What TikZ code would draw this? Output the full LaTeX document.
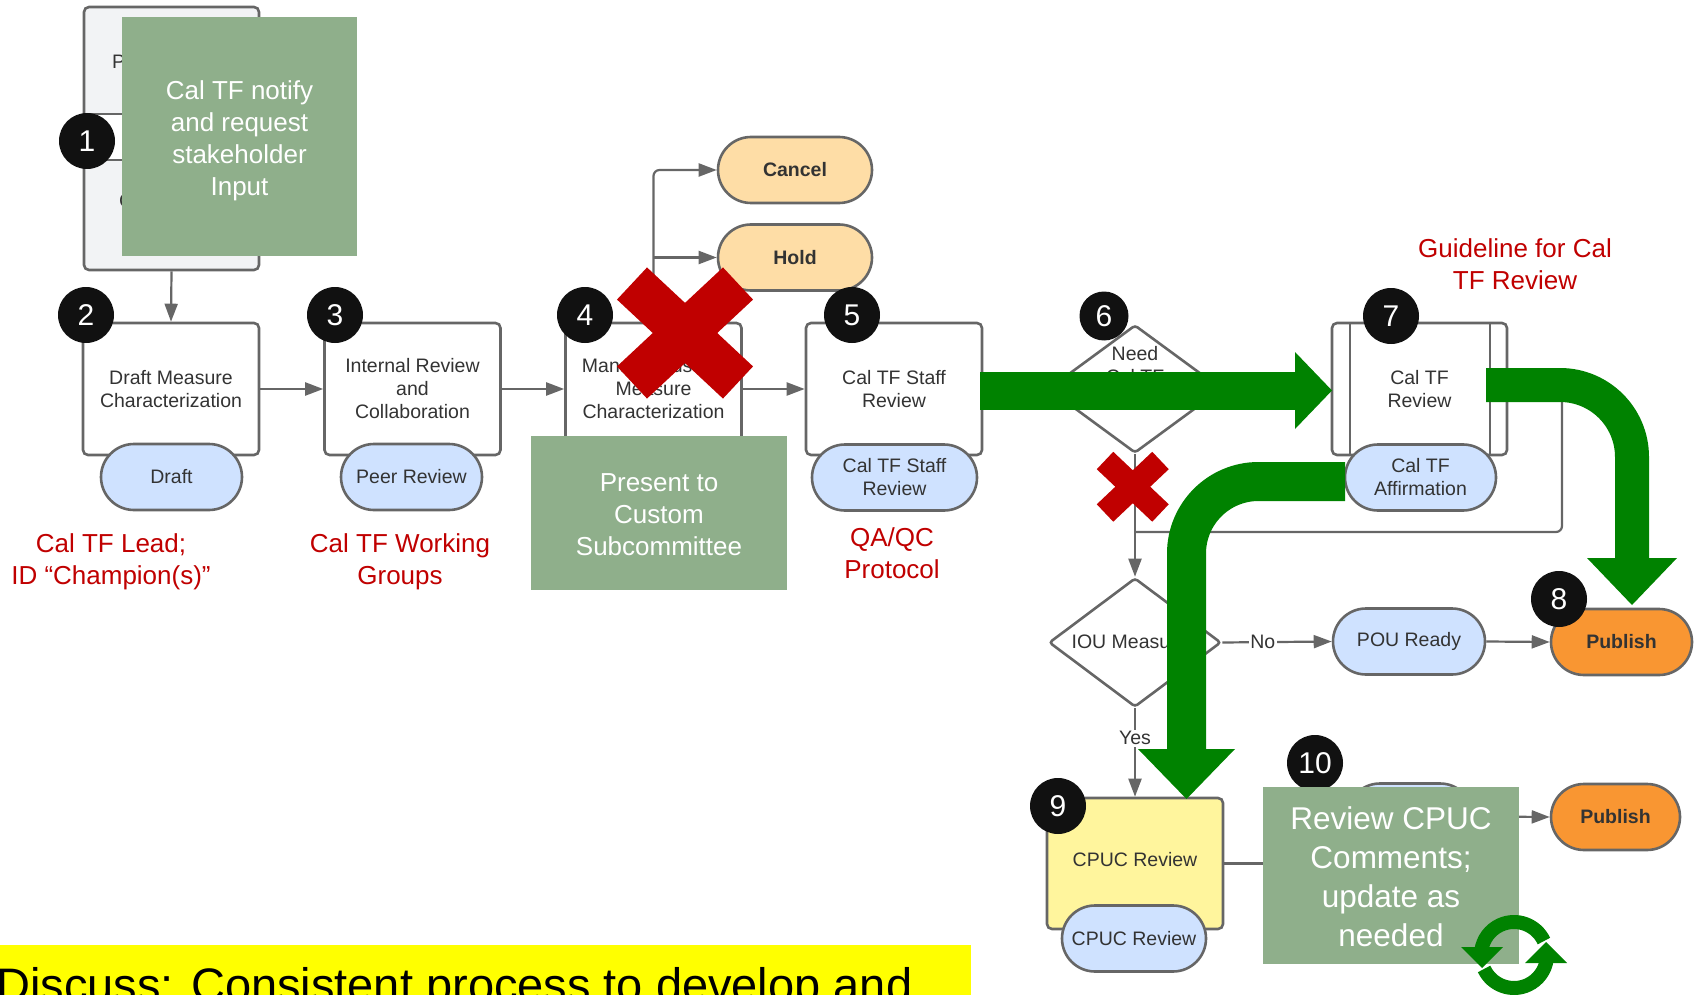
\documentclass[tikz,border=0pt]{standalone}
\usepackage{fontspec}
\setmainfont{Liberation Sans}
\usetikzlibrary{shapes.geometric,shapes.misc,arrows.meta,calc}

\definecolor{lineg}{RGB}{102,102,102}
\definecolor{txtc}{RGB}{51,51,51}
\definecolor{greenbox}{RGB}{143,175,139}
\definecolor{tagblue}{RGB}{207,226,255}
\definecolor{peach}{RGB}{254,221,166}
\definecolor{orangep}{RGB}{249,150,50}
\definecolor{yellowbox}{RGB}{255,245,157}
\definecolor{redtxt}{RGB}{192,0,0}
\definecolor{garrow}{RGB}{0,130,0}
\definecolor{lightgreyb}{RGB}{242,243,245}
\definecolor{bannery}{RGB}{255,255,0}
\definecolor{badgec}{RGB}{17,17,17}

\newcommand{\boxfnt}{\fontsize{19.5}{23}\selectfont}
\newcommand{\tagbfnt}{\fontsize{19.5}{23}\selectfont\bfseries}
\newcommand{\grnfnt}{\fontsize{26}{32}\selectfont}
\newcommand{\grnbigfnt}{\fontsize{31.5}{39}\selectfont}
\newcommand{\redfnt}{\fontsize{26}{32}\selectfont}
\newcommand{\badgefnt}{\fontsize{30}{34}\selectfont}
\newcommand{\bannerfnt}{\fontsize{47}{56}\selectfont}

\tikzset{
  procbox/.style={draw=lineg, line width=2.6pt, fill=white, rounded corners=5pt,
    inner sep=0pt, text=txtc, align=center, font=\boxfnt,
    minimum width=176pt, minimum height=132pt},
  tagpill/.style={rounded rectangle, draw=lineg, line width=2.6pt, fill=tagblue,
    text=txtc, align=center, font=\boxfnt, inner sep=0pt, minimum height=66pt},
  badge/.style={circle, fill=badgec, text=white, font=\badgefnt, inner sep=0pt,
    minimum size=56pt},
  conn/.style={draw=lineg, line width=2.2pt, -{Triangle[length=18pt,width=13pt]}},
  plainline/.style={draw=lineg, line width=2.2pt},
  lbl/.style={fill=white, inner sep=1.5pt, font=\boxfnt, text=txtc},
  redlbl/.style={text=redtxt, font=\redfnt, align=center, inner sep=0pt},
  gbox/.style={fill=greenbox, text=white, align=center, inner sep=0pt, font=\grnfnt},
  gtext/.style={text=white, align=center, inner sep=0pt, font=\grnfnt},
  gshaft/.style={draw=garrow},
  decision/.style={diamond, draw=lineg, line width=2.6pt, fill=white, inner sep=0pt,
    rounded corners=3pt}
}

\begin{document}
\begin{tikzpicture}[x=1pt,y=-1pt]
\useasboundingbox (0,0) rectangle (1698,995);

% ---------- box 1 (mostly hidden) ----------
\node[procbox, fill=lightgreyb, minimum width=175pt, minimum height=263pt] (b1) at (171.5,138.5) {};
\draw[draw=lineg, line width=2.6pt, fill=white] (84,114) rectangle (210,160);
\node[anchor=west, font=\boxfnt, text=txtc, inner sep=0pt] (b1p) at (112,62) {P};
\node[anchor=west, font=\boxfnt, text=txtc, inner sep=0pt] (b1c) at (119,201) {C};

% ---------- process boxes ----------
\node[procbox] (b2) at (171,389) {Draft Measure\\Characterization};
\node[procbox] (b3) at (412.5,389) {Internal Review\\and\\Collaboration};
\node[procbox] (b4) at (653.5,389) {Manage Custom\\Measure\\Characterization};
\node[procbox] (b5) at (894,389) {Cal TF Staff\\Review};
\node[procbox, minimum width=175pt] (b7) at (1419.5,389) {Cal TF\\Review};
\draw[draw=lineg, line width=2.6pt] (1350,324) -- (1350,454) (1490,324) -- (1490,454);
\node[procbox, fill=yellowbox, minimum height=131pt] (b9) at (1135,863.5) {};
\node[font=\boxfnt, text=txtc, inner sep=0pt] (b9t) at (1135,860) {CPUC Review};

% ---------- tags / terminators ----------
\node[tagpill, minimum width=141pt] (t2) at (171.5,477) {Draft};
\node[tagpill, minimum width=141pt] (t3) at (411.5,477) {Peer Review};
\node[tagpill, minimum width=165pt] (t5) at (894.5,477.5) {Cal TF Staff\\Review};
\node[tagpill, minimum width=151pt] (t7) at (1420.5,477.5) {Cal TF\\Affirmation};
\node[tagpill, minimum width=144pt] (t9) at (1134,938.5) {CPUC Review};
\node[tagpill, fill=peach, font=\tagbfnt, minimum width=154pt] (cancel) at (795,170) {Cancel};
\node[tagpill, fill=peach, font=\tagbfnt, minimum width=154pt] (hold) at (795,257.5) {Hold};
\node[tagpill, minimum width=152pt] (pou) at (1409,641.5) {POU Ready};
\node[tagpill, fill=orangep, font=\tagbfnt, minimum width=141pt] (pub1) at (1621.5,642) {Publish};
\node[tagpill, minimum width=126pt] (t10) at (1410,816.5) {};
\node[tagpill, fill=orangep, font=\tagbfnt, minimum width=129pt] (pub2) at (1615.5,817) {Publish};

% ---------- decisions ----------
\node[decision, minimum width=174pt, minimum height=128pt] (d6) at (1135,389) {};
\node[font=\boxfnt, text=txtc, align=center, inner sep=0pt] (d6t) at (1135,377) {Need\\Cal TF\\Review?};
\node[decision, minimum width=172pt, minimum height=129pt] (iou) at (1135,642.5) {};
\node[font=\boxfnt, text=txtc, inner sep=0pt] (ioutxt) at (1135,642) {IOU Measure?};

% ---------- connectors ----------
\draw[conn] (b1.south) -- (b2.north);
\draw[conn] (b2.east) -- (b3.west);
\draw[conn] (b3.east) -- (b4.west);
\draw[conn] (b4.east) -- (b5.west);
\draw[conn, rounded corners=6pt] (b4.north) -- (b4.north |- cancel.west) -- (cancel.west);
\coordinate (jhold) at (b4.north |- hold.west);
\draw[conn] (jhold) -- (hold.west);
\draw[conn] (d6.south) -- (iou.north);
\coordinate (rt1) at (1562,389);
\coordinate (rt2) at (1562,532);
\coordinate (rt3) at (1135,532);
\draw[plainline, rounded corners=6pt] (b7.east) -- (rt1) -- (rt2) -- (rt3);
\draw[conn] (iou.east) -- node[lbl, pos=0.37] (nolbl) {No} (pou.west);
\draw[conn] (pou.east) -- (pub1.west);
\draw[conn] (iou.south) -- node[lbl, pos=0.34] (yeslbl) {Yes} (b9.north);
\coordinate (hid) at (1300,863.5);
\draw[plainline] (b9.east) -- (hid);
\draw[conn] (t10.east) -- (pub2.west);

% ---------- badges ----------
\node[badge] (n1) at (87,141) {1};
\node[badge] (n2) at (86,315) {2};
\node[badge] (n3) at (335,315) {3};
\node[badge] (n4) at (585,315) {4};
\node[badge] (n5) at (852,315) {5};
\node[badge, minimum size=49pt] (n6) at (1104,316) {6};
\node[badge] (n7) at (1391,316) {7};
\node[badge] (n8) at (1559,599) {8};
\node[badge] (n9) at (1058,806) {9};
\node[badge] (n10) at (1315,763) {10};

% ---------- red labels ----------
\node[redlbl] (r1) at (111,562) {Cal TF Lead;\\ID “Champion(s)”};
\node[redlbl] (r2) at (400,562) {Cal TF Working\\Groups};
\node[redlbl] (r3) at (892,553) {QA/QC\\Protocol};
\node[redlbl] (r4) at (1515,264) {Guideline for Cal\\TF Review};

% ---------- green note box 1 ----------
\node[gbox, minimum width=235pt, minimum height=239pt] (g1) at (239.5,136.5) {};
\node[gtext] (g1t) at (239.5,141) {Cal TF notify\\and request\\stakeholder\\Input};

% ---------- red crosses ----------
\draw[draw=redtxt, line width=44pt] (632,283.5) -- (738,382.5) (738,283.5) -- (632,382.5);
\draw[draw=redtxt, line width=24pt] (1105,460.5) -- (1160.5,513) (1160.5,460.5) -- (1105,513);

\node[gbox, minimum width=256pt, minimum height=154pt] (g2) at (659,513) {};
\node[gtext] (g2t) at (659,515) {Present to\\Custom\\Subcommittee};

% ---------- big green arrows ----------
\coordinate (ga1s) at (980,391);
\coordinate (ga1e) at (1296,391);
\draw[gshaft, line width=38pt] (ga1s) -- (ga1e);
\fill[garrow] (1295,352) -- (1332,390.5) -- (1295,429) -- cycle;

\coordinate (ga2s) at (1486,385);
\coordinate (ga2c) at (1632,385);
\coordinate (ga2e) at (1632,560);
\draw[gshaft, line width=34pt, rounded corners=72pt] (ga2s) -- (ga2c) -- (ga2e);
\fill[garrow] (1587,558) -- (1677,558) -- (1632,605) -- cycle;

\coordinate (ga3s) at (1345,481.5);
\coordinate (ga3c) at (1186.5,481.5);
\coordinate (ga3e) at (1186.5,751);
\draw[gshaft, line width=39pt, rounded corners=72pt] (ga3s) -- (ga3c) -- (ga3e);
\fill[garrow] (1138,749) -- (1235,749) -- (1186.5,799) -- cycle;

% ---------- green note box 3 + sync icon ----------
\node[gbox, minimum width=256pt, minimum height=177pt] (g3) at (1391,875.5) {};
\node[gtext, font=\grnbigfnt] (g3t) at (1391,877) {Review CPUC\\Comments;\\update as\\needed};
\coordinate (sync) at (1514,955);
\draw[gshaft, line width=14pt] ($(sync)+(-25:33)$) arc[start angle=-25, end angle=-172, radius=33];
\fill[garrow] (1461,947) -- (1503,947) -- (1482,968) -- cycle;
\draw[gshaft, line width=14pt] ($(sync)+(-205:33)$) arc[start angle=-205, end angle=-352, radius=33];
\fill[garrow] (1525,963) -- (1567,963) -- (1546,942) -- cycle;

% ---------- bottom banner ----------
\fill[bannery] (0,945) rectangle (971,1000);
\node[anchor=base west, font=\bannerfnt, inner sep=0pt, text=black] (disc) at (-4,1001)
  {Discuss: Consistent process to develop and};
\end{tikzpicture}
\end{document}
